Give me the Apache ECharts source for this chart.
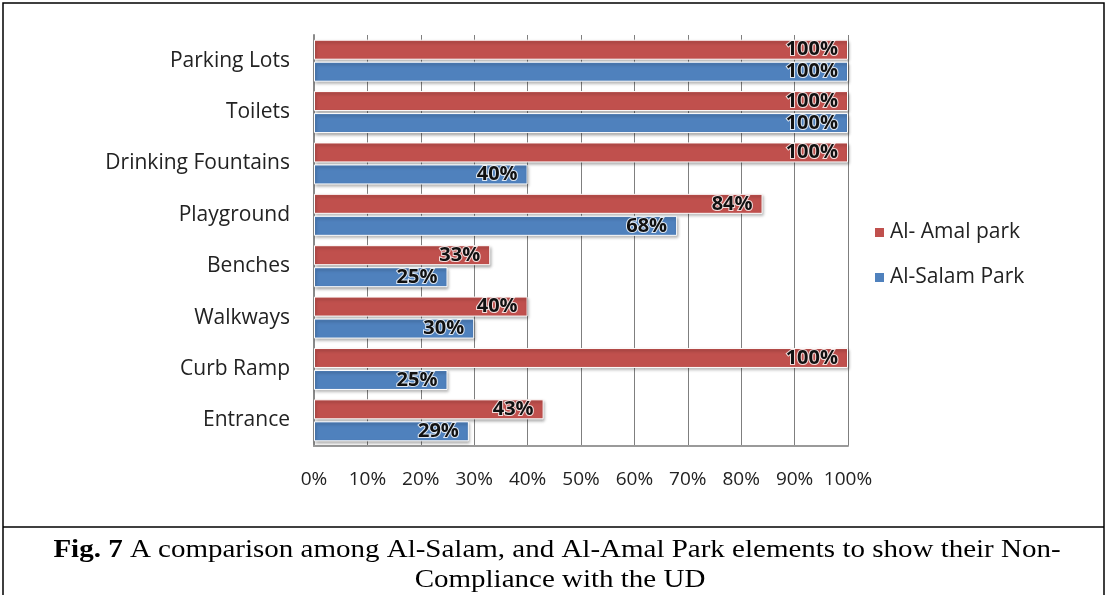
<!DOCTYPE html>
<html>
<head>
<meta charset="utf-8">
<script src="https://cdn.jsdelivr.net/npm/echarts@6/dist/echarts.min.js"></script>
<style>
  html, body { margin: 0; padding: 0; background: #fff; }
  #main { width: 1107px; height: 595px; }
</style>
</head>
<body>
<div id="main"></div>
<script>
// chart data
var categories = ['Parking Lots', 'Toilets', 'Drinking Fountains', 'Playground', 'Benches', 'Walkways', 'Curb Ramp', 'Entrance'];
var amalValues = [100, 100, 100, 84, 33, 40, 100, 43];
var salamValues = [100, 100, 40, 68, 25, 30, 25, 29];
var seriesNames = ['Al- Amal park', 'Al-Salam Park'];

var chart = echarts.init(document.getElementById('main'));

var labelStyle = {
  show: true,
  position: 'insideRight',
  distance: 10,
  formatter: '{c}%',
  color: '#111',
  fontFamily: 'Open Sans',
  fontWeight: 'bold',
  fontSize: 20,
  textBorderColor: 'rgba(255,255,255,0.8)',
  textBorderWidth: 2
};

function makeSeries(name, values, color) {
  return {
    name: name,
    type: 'bar',
    data: values,
    barWidth: 20,
    barGap: '10%',
    itemStyle: {
      color: color,
      borderColor: '#fff',
      borderWidth: 1,
      shadowColor: 'rgba(0,0,0,0.35)',
      shadowBlur: 3,
      shadowOffsetX: 1,
      shadowOffsetY: 2
    },
    label: labelStyle
  };
}

var captionFont = 'Liberation Serif';

var option = {
  animation: false,
  backgroundColor: '#fff',
  grid: { left: 314, right: 259, top: 35, height: 411 },
  legend: {
    orient: 'vertical',
    left: 868,
    top: 217,
    itemGap: 24,
    itemWidth: 11,
    itemHeight: 11,
    icon: 'rect',
    data: seriesNames,
    textStyle: { fontFamily: 'Open Sans', fontSize: 21, color: '#222' }
  },
  xAxis: {
    type: 'value',
    min: 0,
    max: 100,
    interval: 10,
    axisLabel: { formatter: '{value}%', margin: 24, fontFamily: 'Open Sans', fontSize: 19, color: '#222' },
    axisLine: { show: true, lineStyle: { color: '#9a9a9a', width: 2 } },
    axisTick: { show: false },
    splitLine: { show: true, lineStyle: { color: '#7f7f7f', width: 1 } }
  },
  yAxis: {
    type: 'category',
    inverse: true,
    data: categories,
    axisLabel: { margin: 24, fontFamily: 'Open Sans', fontSize: 21, color: '#222' },
    axisLine: { show: true, lineStyle: { color: '#8a8a8a', width: 2 } },
    axisTick: { show: false }
  },
  series: [
    makeSeries(seriesNames[0], amalValues, '#C0504D'),
    makeSeries(seriesNames[1], salamValues, '#4F81BD')
  ],
  graphic: [
    { type: 'rect', shape: { x: 3, y: 3, width: 1101, height: 600 }, style: { fill: 'none', stroke: '#000', lineWidth: 1.5 }, silent: true },
    { type: 'line', shape: { x1: 3, y1: 527, x2: 1104, y2: 527 }, style: { stroke: '#000', lineWidth: 1.5 }, silent: true },
    {
      type: 'text', x: 557, y: 537, scaleX: 1.115,
      style: {
        text: '{b|Fig. 7} A comparison among Al-Salam, and Al-Amal Park elements to show their Non-',
        align: 'center',
        fontFamily: captionFont,
        fontSize: 26,
        fill: '#000',
        rich: { b: { fontWeight: 'bold', fontFamily: captionFont, fontSize: 26 } }
      }
    },
    {
      type: 'text', x: 560, y: 567, scaleX: 1.115,
      style: { text: 'Compliance with the UD', align: 'center', fontFamily: captionFont, fontSize: 26, fill: '#000' }
    }
  ]
};

chart.setOption(option);
</script>
</body>
</html>
